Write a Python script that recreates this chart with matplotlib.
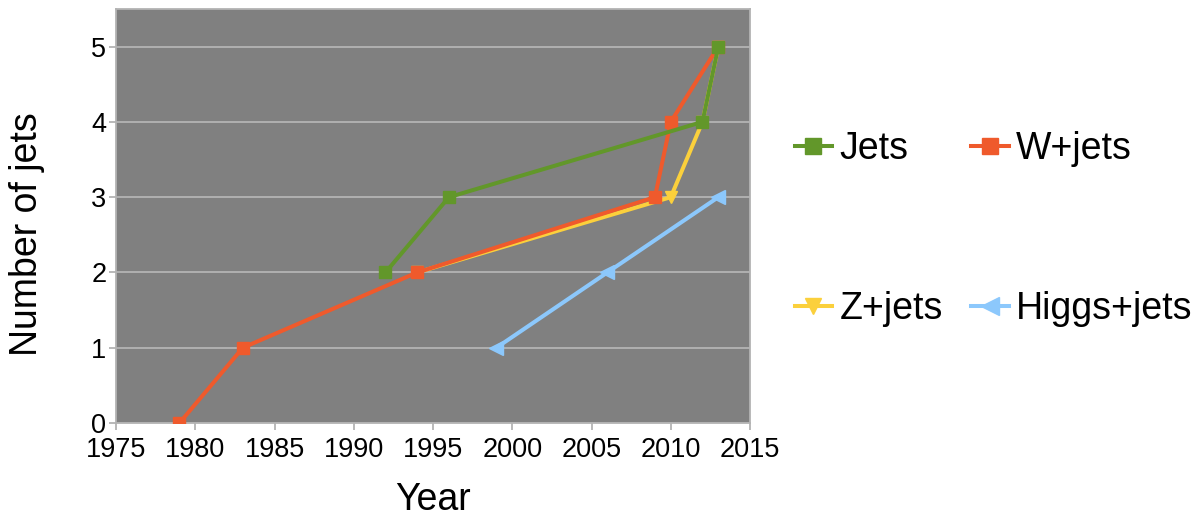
import matplotlib
matplotlib.use("Agg")
import matplotlib.pyplot as plt

plt.rcParams['font.family'] = ['Liberation Sans', 'DejaVu Sans']

# Year in which each jet multiplicity was first measured
jets_years = [1992, 1996, 2012, 2013]
jets_n = [2, 3, 4, 5]

wjets_years = [1979, 1983, 1994, 2009, 2010, 2013]
wjets_n = [0, 1, 2, 3, 4, 5]

zjets_years = [1994, 2010, 2012, 2013]
zjets_n = [2, 3, 4, 5]

higgs_years = [1999, 2006, 2013]
higgs_n = [1, 2, 3]

x_ticks = [1975, 1980, 1985, 1990, 1995, 2000, 2005, 2010, 2015]
y_ticks = [0, 1, 2, 3, 4, 5]

c_jets = '#62972a'
c_w = '#ef5a2c'
c_z = '#fbd03c'
c_h = '#8cc8fc'

fig = plt.figure(figsize=(12, 5.23), dpi=100)
ax = fig.add_axes([0.0967, 0.1912, 0.5283, 0.7916])
ax.set_facecolor('#808080')

lw = 2.9
hz, = ax.plot(zjets_years, zjets_n, color=c_z, lw=lw, marker='v', ms=9,
              label='Z+jets', zorder=3)
hw, = ax.plot(wjets_years, wjets_n, color=c_w, lw=lw, marker='s', ms=8.5,
              label='W+jets', zorder=4)
hj, = ax.plot(jets_years, jets_n, color=c_jets, lw=lw, marker='s', ms=8.5,
              label='Jets', zorder=5)
hh, = ax.plot(higgs_years, higgs_n, color=c_h, lw=lw, marker='<', ms=10,
              label='Higgs+jets', zorder=3)

ax.set_xlim(1975, 2015)
ax.set_ylim(0, 5.5)
ax.set_xticks(x_ticks)
ax.set_yticks(y_ticks)
ax.grid(axis='y', color='#b3b3b3', lw=1.3, zorder=1)
ax.set_axisbelow(True)
for s in ax.spines.values():
    s.set_color('#b3b3b3')
    s.set_linewidth(1.3)
ax.tick_params(axis='both', colors='#b3b3b3', labelcolor='black',
               labelsize=19.5, length=5, width=1.3)
ax.tick_params(axis='x', pad=5)
ax.tick_params(axis='y', pad=2)

ax.set_xlabel('Year', fontsize=27)
ax.xaxis.set_label_coords(0.5, -0.142)
ax.set_ylabel('Number of jets', fontsize=27)
ax.yaxis.set_label_coords(-0.112, 0.4565)

fig.legend(handles=[hj, hz, hw, hh], ncol=2, frameon=False,
           loc='center left', bbox_to_anchor=(0.634, 0.562),
           fontsize=27, handlelength=1.0, handletextpad=0.2,
           columnspacing=0.75, labelspacing=3.3, markerscale=1.3)

fig.savefig('out.png', dpi=100)
